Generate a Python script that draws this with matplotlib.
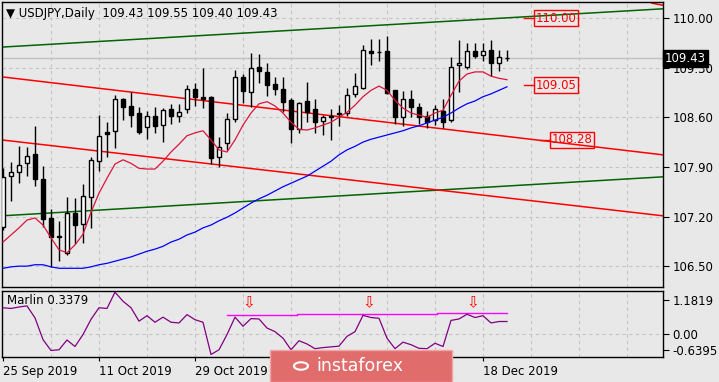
import numpy as np
import matplotlib
matplotlib.use("Agg")
import matplotlib.pyplot as plt
from matplotlib.patches import Rectangle, Circle

# daily candles, 25 Sep 2019 .. 23 Dec 2019
opens = [107.05, 107.77, 107.83, 107.95, 108.08, 107.73, 107.18, 106.93, 106.69, 107.25,
         107.09, 107.48, 107.98, 108.39, 108.41, 108.86, 108.76, 108.66, 108.46, 108.62,
         108.49, 108.72, 108.62, 108.72, 109.00, 108.89, 108.89, 108.04, 108.24, 108.58,
         109.17, 108.96, 109.31, 109.24, 109.07, 109.00, 108.84, 108.43, 108.83, 108.72,
         108.55, 108.62, 108.64, 108.66, 108.93, 109.01, 109.54, 109.52, 109.53, 108.98,
         108.60, 108.86, 108.74, 108.62, 108.56, 108.69, 108.56, 109.34, 109.31, 109.53,
         109.48, 109.55, 109.37, 109.43]
highs = [107.88, 107.97, 108.19, 108.18, 108.48, 107.91, 107.31, 107.14, 107.48, 107.46,
         107.66, 108.04, 108.63, 108.53, 108.91, 108.87, 108.96, 108.74, 108.69, 108.74,
         108.73, 108.79, 108.79, 109.05, 109.08, 109.29, 108.90, 108.32, 108.66, 109.27,
         109.21, 109.51, 109.49, 109.37, 109.17, 109.17, 108.87, 108.82, 109.10, 108.86,
         108.63, 108.72, 108.77, 109.01, 109.22, 109.62, 109.70, 109.70, 109.75, 108.98,
         108.97, 108.98, 108.80, 108.69, 108.77, 108.86, 109.45, 109.69, 109.65, 109.65,
         109.65, 109.69, 109.55, 109.55]
lows = [107.01, 107.42, 107.67, 107.77, 107.63, 107.05, 106.49, 106.57, 106.66, 106.81,
        106.83, 107.04, 107.84, 108.04, 108.17, 108.56, 108.46, 108.36, 108.29, 108.38,
        108.25, 108.50, 108.53, 108.66, 108.76, 108.73, 107.94, 107.90, 108.14, 108.53,
        108.80, 108.74, 109.08, 108.90, 108.91, 108.67, 108.24, 108.38, 108.53, 108.38,
        108.35, 108.28, 108.48, 108.62, 108.89, 109.00, 109.34, 109.39, 108.93, 108.50,
        108.47, 108.60, 108.50, 108.45, 108.49, 108.45, 108.53, 108.96, 109.28, 109.44,
        109.39, 109.18, 109.25, 109.40]
closes = [107.76, 107.83, 107.93, 108.06, 107.73, 107.16, 106.91, 106.91, 107.25, 107.08,
          107.49, 108.00, 108.34, 108.36, 108.86, 108.74, 108.63, 108.39, 108.62, 108.48,
          108.70, 108.62, 108.67, 109.00, 108.89, 108.86, 108.03, 108.18, 108.58, 109.17,
          108.97, 109.29, 109.25, 109.06, 109.00, 108.82, 108.43, 108.80, 108.67, 108.53,
          108.60, 108.61, 108.66, 108.91, 109.04, 109.55, 109.51, 109.52, 108.94, 108.60,
          108.86, 108.74, 108.60, 108.53, 108.72, 108.53, 109.31, 109.37, 109.53, 109.46,
          109.53, 109.37, 109.45, 109.43]

# moving averages
ma_fast = [106.84, 106.94, 107.04, 107.15, 107.18, 107.08, 106.90, 106.73, 106.69, 106.80,
           106.95, 107.26, 107.53, 107.74, 107.94, 108.00, 107.95, 107.88, 107.87, 107.87,
           107.98, 108.11, 108.22, 108.34, 108.38, 108.41, 108.28, 108.14, 108.11, 108.28,
           108.49, 108.66, 108.79, 108.82, 108.76, 108.66, 108.53, 108.43, 108.42, 108.45,
           108.49, 108.53, 108.60, 108.67, 108.77, 108.89, 108.98, 109.04, 108.98, 108.84,
           108.73, 108.66, 108.63, 108.60, 108.66, 108.70, 108.91, 109.11, 109.21, 109.24,
           109.24, 109.18, 109.15, 109.13]
ma_slow = [106.47, 106.49, 106.50, 106.50, 106.52, 106.52, 106.49, 106.47, 106.47, 106.47,
           106.47, 106.49, 106.52, 106.54, 106.57, 106.60, 106.63, 106.67, 106.71, 106.74,
           106.78, 106.84, 106.88, 106.94, 106.98, 107.04, 107.08, 107.14, 107.19, 107.25,
           107.32, 107.39, 107.45, 107.50, 107.56, 107.62, 107.67, 107.72, 107.77, 107.84,
           107.91, 107.98, 108.07, 108.14, 108.19, 108.25, 108.29, 108.32, 108.35, 108.38,
           108.41, 108.45, 108.48, 108.52, 108.56, 108.60, 108.66, 108.73, 108.79, 108.83,
           108.89, 108.93, 108.98, 109.03]

# Marlin oscillator
marlin = [0.72, 0.70, 0.74, 0.77, 0.44, -0.16, -0.46, -0.44, -0.17, -0.35,
          -0.02, 0.40, 0.72, 0.70, 1.15, 0.90, 0.72, 0.35, 0.50, 0.32,
          0.46, 0.32, 0.30, 0.53, 0.39, 0.32, -0.57, -0.44, -0.02, 0.46,
          0.21, 0.42, 0.41, 0.16, 0.06, -0.12, -0.44, -0.19, -0.28, -0.41,
          -0.38, -0.36, -0.34, -0.07, 0.06, 0.51, 0.45, 0.43, -0.12, -0.41,
          -0.23, -0.30, -0.40, -0.41, -0.26, -0.35, 0.37, 0.41, 0.54, 0.45,
          0.50, 0.30, 0.34, 0.34]
marlin_levels = [(28, 36.75, 0.525), (36.75, 54.25, 0.55), (54.25, 63, 0.58)]
marlin_arrows = [30.75, 45.75, 58.75]

# trend lines: (x0, y0, x1, y1) in bars / price
green_lines = [(-0.125, 109.59, 82.5, 110.13), (-0.125, 107.21, 82.5, 107.76)]
red_lines = [(-0.125, 109.17, 82.5, 108.07), (-0.125, 108.28, 82.5, 107.21),
             (81.1, 110.21, 82.5, 110.18)]
level_labels = [(110.00, "110.00", 65.1), (109.05, "109.05", 65.1), (108.28, "108.28", 67.1)]

# labels for 14 Nov and 2 Dec sit under the watermark in the original
date_pos = [0, 12, 24, 60]
date_labels = ["25 Sep 2019", "11 Oct 2019", "29 Oct 2019", "18 Dec 2019"]
price_ticks = [110.00, 109.30, 108.60, 107.90, 107.20, 106.50]
last_price = 109.43

bg = "#e8e8e8"
grid_kw = dict(color="#c4c4c4", lw=0.8, linestyle=(0, (3, 3)))
plt.rcParams["font.family"] = "DejaVu Sans"
plt.rcParams["font.size"] = 8

fig = plt.figure(figsize=(7.19, 3.82), dpi=100, facecolor=bg)
W, H = 719, 382
ax = fig.add_axes([2 / W, (H - 287) / H, 661 / W, 285 / H], facecolor=bg)
ax2 = fig.add_axes([2 / W, (H - 357) / H, 661 / W, 66 / H], facecolor=bg)

x = np.arange(len(opens))
o, h, l, c = map(np.array, (opens, highs, lows, closes))
up = c >= o

ax.set_xlim(-0.125, 82.5)
ax.set_ylim(106.206, 110.226)
for t in price_ticks:
    ax.axhline(t, zorder=1, **grid_kw)
for gx in np.arange(6, 83, 6):
    ax.axvline(gx, zorder=1, **grid_kw)
    ax2.axvline(gx, zorder=1, **grid_kw)
ax.axhline(last_price, color="#c0c0c0", lw=1, zorder=1)

for x0, y0, x1, y1 in green_lines:
    ax.plot([x0, x1], [y0, y1], color="#006400", lw=1.1, zorder=2)
for x0, y0, x1, y1 in red_lines:
    ax.plot([x0, x1], [y0, y1], color="#ff0000", lw=1.1, zorder=2)

ax.vlines(x, l, h, color="black", lw=1, zorder=3)
body_lo = np.minimum(o, c)
body_h = np.maximum(np.abs(c - o), 0.004)
ax.bar(x[up], body_h[up], bottom=body_lo[up], width=0.6, color="white",
       edgecolor="black", lw=1, zorder=4)
ax.bar(x[~up], body_h[~up], bottom=body_lo[~up], width=0.6, color="black",
       edgecolor="black", lw=1, zorder=4)

ax.plot(x, ma_fast, color="#dc143c", lw=0.9, zorder=5)
ax.plot(x, ma_slow, color="#0000ff", lw=0.9, zorder=5)

for val, txt, tx in level_labels:
    ax.plot([tx, tx + 1.3], [val, val], color="red", lw=1, zorder=5)
    ax.text(tx + 1.45, val, txt, color="red", fontsize=8.5, va="center", ha="left", zorder=6,
            bbox=dict(boxstyle="square,pad=0.12", fc="none", ec="red", lw=1))

ax.yaxis.tick_right()
ax.set_yticks(price_ticks)
ax.set_yticklabels([f"{t:.2f}" for t in price_ticks])
ax.set_xticks([])
ax.tick_params(axis="y", direction="out", length=4, pad=3, labelsize=8.5, colors="black")
ax.text(1.003, last_price, f"{last_price:.2f}", transform=ax.get_yaxis_transform(),
        color="white", fontsize=8.5, va="center", ha="left", zorder=10, clip_on=False,
        bbox=dict(boxstyle="square,pad=0.2", fc="black", ec="black"))

fig.text(6 / W, 1 - 13 / H, "\u25bc USDJPY,Daily  109.43 109.55 109.40 109.43",
         fontsize=8.5, va="center", ha="left", color="black")

# oscillator panel
ax2.set_xlim(-0.125, 82.5)
ax2.set_ylim(-0.6395, 1.1819)
ax2.axhline(0, zorder=1, **grid_kw)
ax2.plot(x, marlin, color="#800080", lw=0.9, zorder=3)
for x0, x1, v in marlin_levels:
    ax2.plot([x0, x1], [v, v], color="#ff00ff", lw=1, zorder=2)
for xa in marlin_arrows:
    ax2.text(xa, 0.85, "\u21e9", color="red", fontsize=11, ha="center", va="center", zorder=4)
ax2.text(0.008, 0.86, "Marlin 0.3379", transform=ax2.transAxes, fontsize=8.5,
         va="center", ha="left")
ax2.yaxis.tick_right()
ax2.set_yticks([0.94, 0, -0.44])
ax2.set_yticklabels(["1.1819", "0.00", "-0.6395"])
ax2.tick_params(axis="y", direction="out", length=4, pad=3, labelsize=8.5)
ax2.set_xticks(date_pos)
ax2.set_xticklabels(date_labels, ha="left")
ax2.tick_params(axis="x", direction="out", length=3, pad=3, labelsize=8.5)

for a in (ax, ax2):
    for s in a.spines.values():
        s.set_color("black")
        s.set_linewidth(1)

# watermark
fig.add_artist(Rectangle((270 / W, 0), 182 / W, 32 / H, transform=fig.transFigure,
                         facecolor="#e06c6c", edgecolor="#f2a5a5", lw=1, zorder=5))
fig.add_artist(Circle((301 / W, 1 - 366 / H), 7 / W, transform=fig.transFigure,
                      facecolor="none", edgecolor="white", lw=1.5, zorder=6))
fig.text(360 / W, 1 - 366 / H, "instaforex", color="white", fontsize=12.5,
         ha="center", va="center", zorder=7)

fig.savefig("out.png", dpi=100, facecolor=bg)
